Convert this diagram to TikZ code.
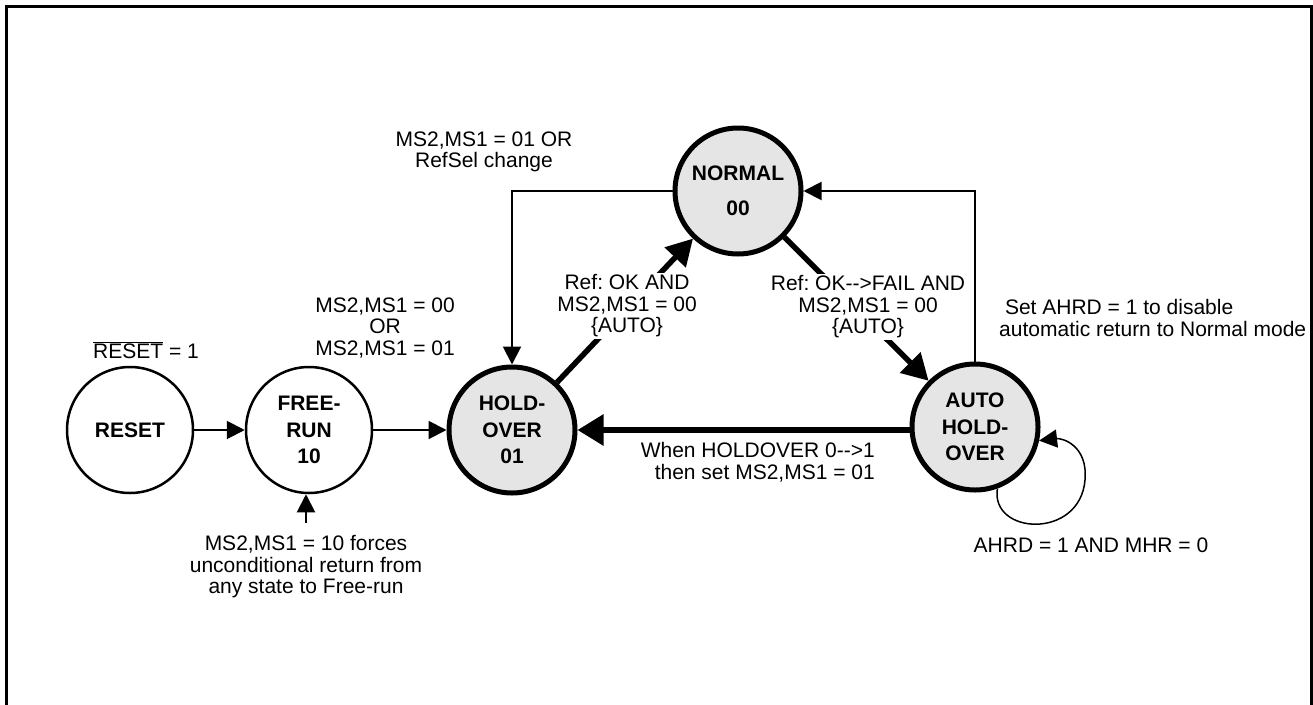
\documentclass[tikz,border=0pt]{standalone}
\usepackage{fontspec}
\setmainfont{Liberation Sans}
\usetikzlibrary{arrows.meta}
\frenchspacing
\tikzset{
  lbl/.style={font=\fontsize{21}{21.5}\selectfont, align=center, inner sep=2pt},
  thinstate/.style={circle, draw, line width=2.5, fill=white, minimum size=126, inner sep=0pt, font=\fontsize{21}{26.5}\selectfont\bfseries, align=center},
  thickstate/.style={circle, draw, line width=5, fill=black!10, minimum size=126, inner sep=0pt, font=\fontsize{21}{26.5}\selectfont\bfseries, align=center},
  thinarrow/.style={line width=2, -{Triangle[length=18,width=18]}},
  thickarrow/.style={line width=5.5, -{Triangle[length=26,width=28]}},
}
\begin{document}
\begin{tikzpicture}[x=1pt,y=-1pt]
\useasboundingbox (0,0) rectangle (1313,704);
\draw[line width=3] (6,706) -- (6,6) -- (1311.5,6) -- (1311.5,706);

\node[thinstate] (RESET) at (130,430) {RESET};
\node[thinstate] (FREE) at (309,430) {FREE-\\RUN\\10};
\node[thickstate] (HOLD) at (512,430) {HOLD-\\OVER\\01};
\node[thickstate] (NORMAL) at (738,191) {NORMAL\\[8pt]00};
\node[thickstate] (AUTO) at (975,427) {AUTO\\HOLD-\\OVER};

\coordinate (FORCE) at (306,523);

\draw[thinarrow] (RESET.east) -- (FREE.west);
\draw[thinarrow] (FREE.east) -- (HOLD.west);
\draw[thinarrow] (FORCE) -- (FORCE |- FREE.south);
\draw[thinarrow] (NORMAL.west) -| (HOLD.north);
\draw[thinarrow] (AUTO.north) |- (NORMAL.east);
\draw[line width=6, -{Triangle[length=26,width=30]}] (AUTO.west |- HOLD.east) -- (HOLD.east);
\draw[thickarrow] (HOLD) -- (NORMAL);
\draw[thickarrow] (NORMAL) -- (AUTO);
\draw[line width=1.5, -{Triangle[length=18,width=18]}] (AUTO.-70) .. controls (990,535) and (1080,540) .. (1085,480) .. controls (1088,445) and (1062,438) .. (AUTO.-12);

\node[lbl] (resetlbl) at (146,350) {$\overline{\mbox{RESET}}$ = 1};
\node[lbl] (freelbl) at (385,328) {MS2,MS1 = 00\\OR\\MS2,MS1 = 01};
\node[lbl] (refsel) at (484,152) {MS2,MS1 = 01 OR\\RefSel change};
\node[lbl, fill=white] (okand) at (627,306) {Ref: OK AND\\MS2,MS1 = 00\\\{AUTO\}};
\node[lbl, fill=white] (okfail) at (868,307) {Ref: OK-{}->FAIL AND\\MS2,MS1 = 00\\\{AUTO\}};
\node[lbl, align=left, anchor=west] (ahrd) at (997,318) {\ Set AHRD = 1 to disable\\automatic return to Normal mode};
\node[lbl, align=right, anchor=east] (when) at (877,462) {When HOLDOVER 0-{}->1\\then set MS2,MS1 = 01};
\node[lbl] (loop) at (1091,545) {AHRD = 1 AND MHR = 0};
\node[lbl] (forces) at (306,567) {MS2,MS1 = 10 forces\\unconditional return from\\any state to Free-run};
\end{tikzpicture}
\end{document}
